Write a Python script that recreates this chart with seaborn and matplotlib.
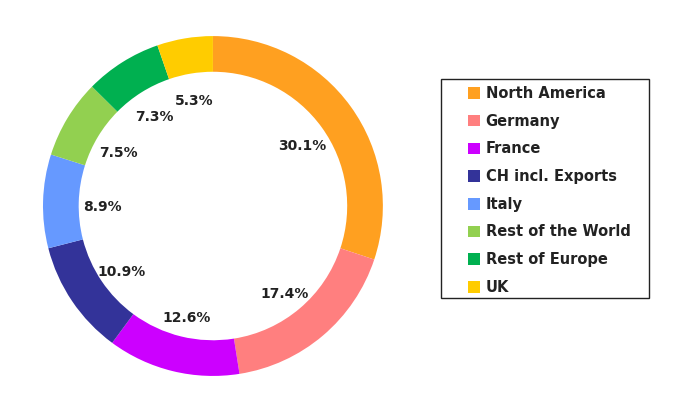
import matplotlib
matplotlib.use("Agg")
import matplotlib.pyplot as plt
from matplotlib.patches import Rectangle
import matplotlib.transforms as mtransforms
import seaborn as sns

# Data
regions = ["North America", "Germany", "France", "CH incl. Exports", "Italy",
           "Rest of the World", "Rest of Europe", "UK"]
shares = [30.1, 17.4, 12.6, 10.9, 8.9, 7.5, 7.3, 5.3]
colors = ["#FFA020", "#FF7F7F", "#CC00FF", "#333399", "#6699FF",
          "#92D050", "#00B050", "#FFCC00"]

sns.set_theme(style="white")
plt.rcParams['font.family'] = ['DejaVu Sans']

fig = plt.figure(figsize=(6.88, 3.93), dpi=100)
ax = fig.add_axes([0.0625, 0.0433, 0.494, 0.865])

wedges, texts, autotexts = ax.pie(
    shares, colors=colors, startangle=90, counterclock=False,
    autopct='%1.1f%%', pctdistance=0.65,
    wedgeprops=dict(width=0.21, edgecolor='none'),
    textprops=dict(fontsize=10, fontweight='bold', color='#222222'))
ax.set_xlim(-1, 1)
ax.set_ylim(-1, 1)
ax.set_aspect('equal')

# labels sit a little below the radial position in the original
shift = mtransforms.ScaledTranslation(0, -3 / 72, fig.dpi_scale_trans)
for t in autotexts:
    t.set_transform(t.get_transform() + shift)

# legend without frame, box drawn separately
leg = fig.legend(wedges, regions, loc='upper left',
                 bbox_to_anchor=(468 / 688, 1 - 86 / 393), frameon=False,
                 prop=dict(size=10.5, weight='bold'),
                 handlelength=0.85, handleheight=0.85, handletextpad=0.35,
                 labelspacing=0.87, borderpad=0, borderaxespad=0)
for t in leg.get_texts():
    t.set_color('#222222')

fig.add_artist(Rectangle((441 / 688, 1 - 298 / 393), 208 / 688, 219 / 393,
                         transform=fig.transFigure, fill=False,
                         edgecolor='#222222', linewidth=1.0))

fig.savefig("out.png", dpi=100)
